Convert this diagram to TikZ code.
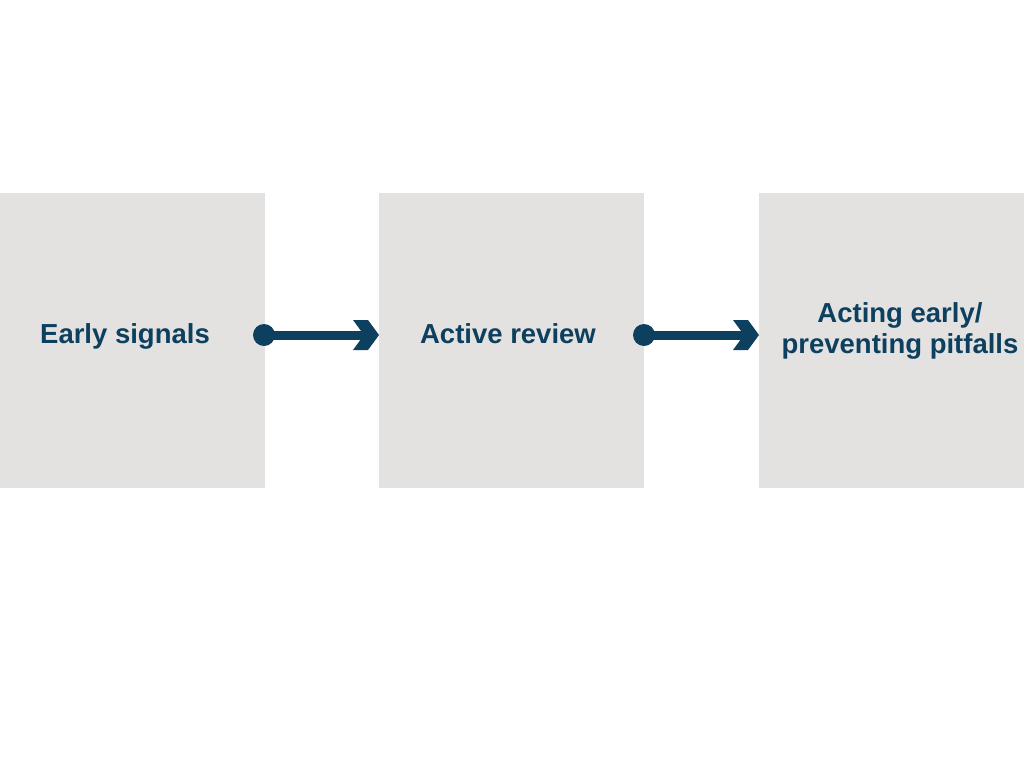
\documentclass[tikz,border=0pt]{standalone}
\usepackage{fontspec}
\setmainfont{Liberation Sans}
\definecolor{boxgray}{HTML}{E3E2E1}
\definecolor{navy}{HTML}{0D3F5E}
\begin{document}
\begin{tikzpicture}[x=1pt,y=-1pt,
  stagebox/.style={fill=boxgray, draw=none, minimum width=265pt, minimum height=295pt, inner sep=0pt, anchor=north west},
  label/.style={text=navy, font=\fontsize{27.5}{31}\selectfont\bfseries, align=center, inner sep=0pt, anchor=base},
  dot/.style={circle, fill=navy, minimum size=22pt, inner sep=0pt},
  shaft/.style={navy, line width=9pt},
  chevron/.style={fill=navy, draw=none}]
\useasboundingbox (0,0) rectangle (1024,768);
\node[stagebox] (b1) at (0,193) {};
\node[stagebox] (b2) at (379,193) {};
\node[stagebox] (b3) at (759,193) {};
\node[label] (t1) at (125,343) {Early signals};
\node[label] (t2) at (508,343) {Active review};
\node[label] (t3) at (900,353) {Acting early/\\preventing pitfalls};
\node[dot] (d1) at (264,335) {};
\node[dot] (d2) at (644,335) {};
\coordinate (tip1) at (d1 -| b2.west);
\coordinate (tip2) at (d2 -| b3.west);
\draw[shaft] (d1.center) -- ([xshift=-12pt]tip1);
\fill[chevron] (tip1) -- ++(-11,-15) -- ++(-15,0) -- ++(11,15) -- ++(-11,15) -- ++(15,0) -- cycle;
\draw[shaft] (d2.center) -- ([xshift=-12pt]tip2);
\fill[chevron] (tip2) -- ++(-11,-15) -- ++(-15,0) -- ++(11,15) -- ++(-11,15) -- ++(15,0) -- cycle;
\end{tikzpicture}
\end{document}
